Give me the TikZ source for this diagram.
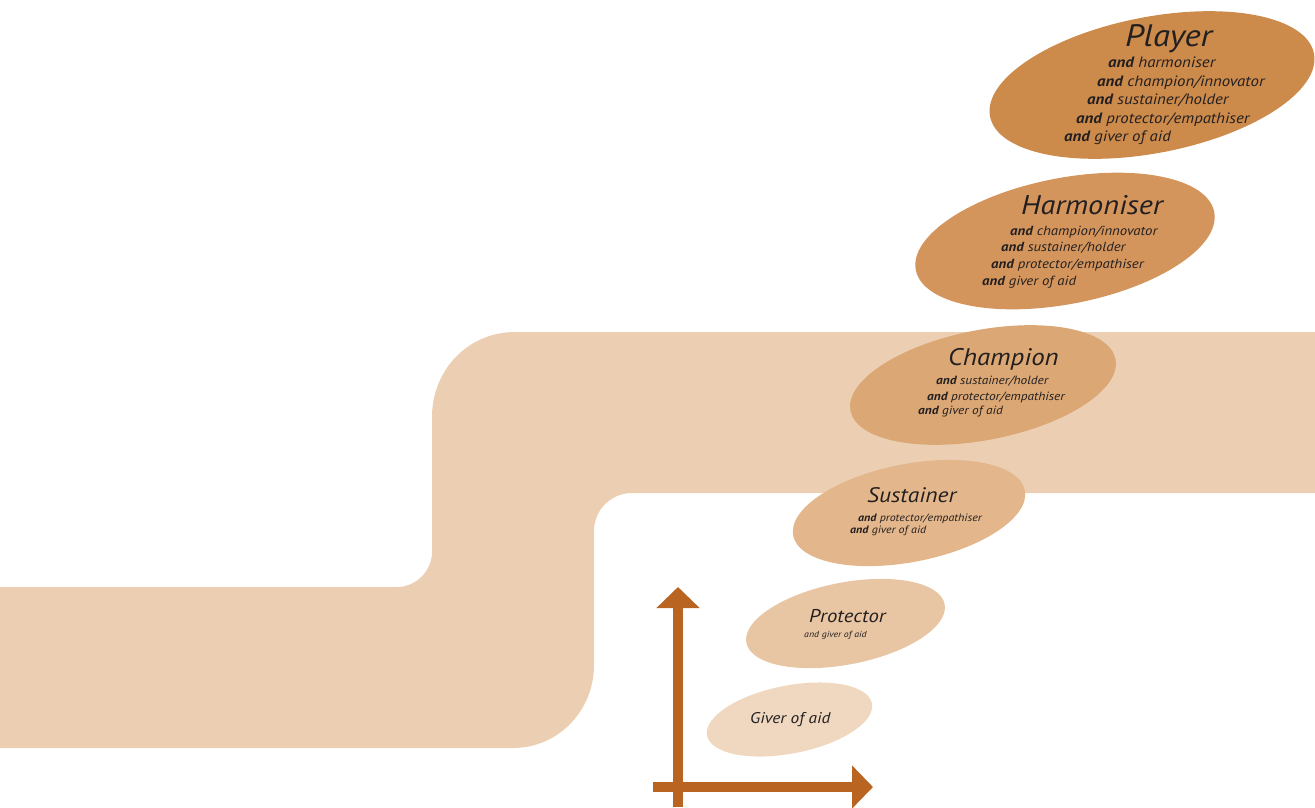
\documentclass[tikz,border=0pt]{standalone}
\usepackage{fontspec}
\setmainfont{PT Sans}[FakeStretch=1.12]
\usetikzlibrary{arrows.meta}

\definecolor{band}{HTML}{ECCFB2}
\definecolor{cPlayer}{HTML}{CC8A4B}
\definecolor{cHarm}{HTML}{D4955D}
\definecolor{cChamp}{HTML}{DBA774}
\definecolor{cSust}{HTML}{E3B78B}
\definecolor{cProt}{HTML}{E9C6A3}
\definecolor{cGiver}{HTML}{F0D8C0}
\definecolor{axis}{HTML}{BA6421}
\definecolor{ink}{HTML}{231F20}

\newcommand\kw{\textbf{and}}

\tikzset{
  label text/.style={anchor=base west, inner sep=0pt, text=ink,
    font=\itshape\fontsize{#1}{#1}\selectfont},
  role/.style={label text=#1},
  duty/.style={label text=#1},
  axis arrow/.style={draw=axis, line width=10pt,
    -{Triangle[length=21pt,width=42pt]}},
}

\begin{document}
\begin{tikzpicture}[x=1pt,y=-1pt]
\useasboundingbox (0,0) rectangle (1315,807);

% stepped band behind the roles
\fill[band] (0,587) -- (397,587)
  .. controls (416,587) and (432,571) .. (432,552)
  -- (432,417)
  .. controls (432,370) and (468,332) .. (515,332)
  -- (1315,332) -- (1315,493) -- (632,493)
  .. controls (611,493) and (594,510) .. (594,531)
  -- (594,665)
  .. controls (594,711) and (558,748) .. (513,748)
  -- (0,748) -- cycle;

% axes
\coordinate (origin) at (678,807);
\coordinate (ytip) at (678,587);
\coordinate (xstart) at (653,787);
\coordinate (xtip) at (873,787);
\draw[axis arrow] (origin) -- (ytip);
\draw[axis arrow] (xstart) -- (xtip);

% role ellipses
\fill[cGiver, rotate around={11:(789.5,719.5)}] (789.5,719.5) ellipse [x radius=84, y radius=34];
\fill[cProt, rotate around={11:(845.5,623.5)}] (845.5,623.5) ellipse [x radius=101, y radius=41];
\fill[cSust, rotate around={11:(909,513)}] (909,513) ellipse [x radius=118, y radius=49];
\fill[cChamp, rotate around={11:(983,385)}] (983,385) ellipse [x radius=135, y radius=55];
\fill[cHarm, rotate around={11:(1065,241)}] (1065,241) ellipse [x radius=152, y radius=63];
\fill[cPlayer, rotate around={11:(1152,85)}] (1152,85) ellipse [x radius=165, y radius=68];

% Player
\node[role=31] (player) at (1125,46) {Player};
\node[duty=15] (pl1) at (1108,67) {\kw{} harmoniser};
\node[duty=15] (pl2) at (1097,86) {\kw{} champion/innovator};
\node[duty=15] (pl3) at (1087,104) {\kw{} sustainer/holder};
\node[duty=15] (pl4) at (1076,123) {\kw{} protector/empathiser};
\node[duty=15] (pl5) at (1064,141) {\kw{} giver of aid};

% Harmoniser
\node[role=27] (harm) at (1021,214) {Harmoniser};
\node[duty=13.2] (ha1) at (1010,235) {\kw{} champion/innovator};
\node[duty=13.2] (ha2) at (1001,251) {\kw{} sustainer/holder};
\node[duty=13.2] (ha3) at (991,268) {\kw{} protector/empathiser};
\node[duty=13.2] (ha4) at (982,285) {\kw{} giver of aid};

% Champion
\node[role=24] (champ) at (948,365) {Champion};
\node[duty=11.9] (ch1) at (936,384) {\kw{} sustainer/holder};
\node[duty=11.9] (ch2) at (927,400) {\kw{} protector/empathiser};
\node[duty=11.9] (ch3) at (918,414) {\kw{} giver of aid};

% Sustainer
\node[role=21] (sust) at (867,502) {Sustainer};
\node[duty=10.7] (su1) at (858,521) {\kw{} protector/empathiser};
\node[duty=10.7] (su2) at (850,533) {\kw{} giver of aid};

% Protector
\node[role=18.5] (prot) at (809,622) {Protector};
\node[duty=8.8] (pr1) at (804,637) {and giver of aid};

% Giver of aid
\node[role=15.5] (giver) at (750,723) {Giver of aid};
\end{tikzpicture}
\end{document}
